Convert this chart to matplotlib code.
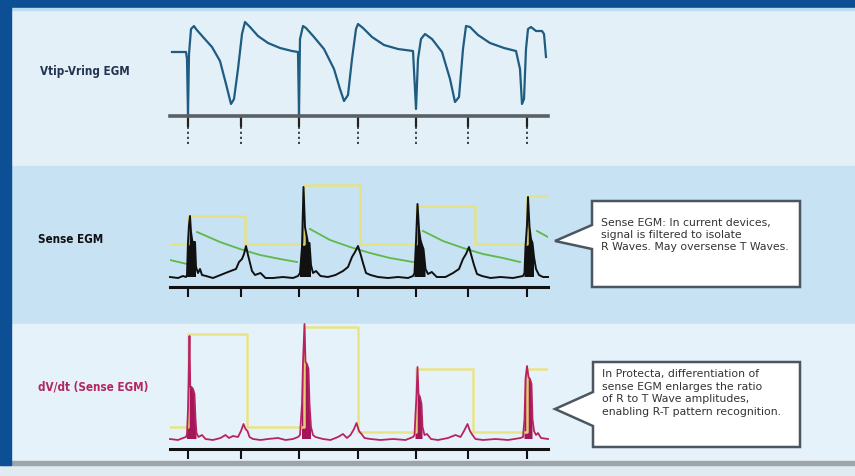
import numpy as np
import matplotlib
matplotlib.use("Agg")
import matplotlib.pyplot as plt
from matplotlib.patches import Rectangle, Polygon

# ---- data (time in ms, amplitude in arbitrary units above the trace baseline) ----
beat_ticks = [0, 212, 444, 680, 912, 1120, 1356]
t_range = (-72, 1440)

# Vtip-Vring EGM
egm_t = [-64, -8, -4, 0, 4, 12, 24, 32, 60, 96, 128, 152, 172, 184, 200, 216, 228, 248, 280, 320,
         368, 416, 440, 444, 448, 460, 472, 504, 544, 584, 608, 624, 640, 656, 672, 680, 700, 736,
         784, 840, 900, 912, 920, 932, 948, 976, 1016, 1048, 1068, 1084, 1100, 1112, 1128, 1160,
         1208, 1264, 1312, 1328, 1336, 1344, 1352, 1360, 1372, 1392, 1416, 1424, 1432]
egm_a = [64, 64, 57, 1, 62, 87, 90, 87, 79, 69, 55, 32, 12, 17, 47, 82, 94, 89, 80, 73,
         68, 65, 64, 1, 77, 90, 88, 79, 67, 47, 27, 15, 21, 57, 87, 92, 88, 79,
         71, 67, 65, 7, 57, 77, 82, 77, 64, 37, 14, 19, 67, 90, 89, 81,
         73, 68, 65, 47, 12, 17, 67, 87, 89, 85, 85, 82, 59]

# Sense EGM
sense_t = [-72, -40, -20, -8,
           -4, 0, 4, 8, 12, 16, 20, 24, 28, 32, 40, 48, 56, 72, 100, 130, 160,
           192, 204, 216, 224, 232, 240, 248, 256, 268, 290, 310, 340, 380, 420, 440,
           448, 456, 462, 468, 474, 480, 486, 492, 500, 512, 530, 560, 590, 620,
           640, 656, 668, 680, 690, 700, 712, 730, 760, 800, 840, 880, 900,
           906, 912, 918, 924, 930, 936, 942, 950, 960, 975, 995, 1030, 1060,
           1084, 1100, 1112, 1124, 1134, 1144, 1156, 1176, 1210, 1250, 1300, 1340,
           1346, 1350, 1356, 1360, 1366, 1372, 1378, 1384, 1392, 1404, 1420, 1440]
sense_a = [10, 9, 11, 10,
           12, 45, 62, 71, 55, 48, 42, 45, 45, 20, 14, 18, 12, 11, 9, 12, 15,
           18, 25, 28, 33, 41, 32, 24, 16, 12, 14, 9, 9, 10, 9, 11,
           14, 40, 100, 60, 52, 44, 44, 22, 14, 16, 11, 10, 12, 16,
           20, 30, 35, 41, 33, 24, 14, 12, 10, 9, 10, 9, 11,
           14, 45, 83, 58, 47, 42, 38, 18, 13, 15, 10, 10, 14,
           18, 28, 33, 40, 31, 22, 13, 11, 9, 10, 9, 11,
           14, 40, 62, 90, 60, 48, 44, 30, 18, 12, 10, 10]
sense_qrs = [(-4, 34), (448, 494), (906, 952), (1346, 1390)]

sense_thr_t = [-72, 0, 0, 228, 228, 464, 464, 688, 688, 912, 912, 1148, 1148, 1356, 1356, 1440]
sense_thr_a = [43, 43, 71, 71, 43, 43, 102, 102, 43, 43, 81, 81, 43, 43, 91, 91]

decay_t = [[-72, -4],
           [36, 128, 208, 288, 368, 436],
           [488, 568, 648, 728, 808, 900],
           [940, 1020, 1100, 1180, 1260, 1328],
           [1396, 1440]]
decay_a = [[27, 23],
           [55, 45, 38, 32, 28, 25],
           [58, 47, 40, 34, 29, 25],
           [56, 46, 39, 33, 29, 25],
           [56, 50]]

# dV/dt (Sense EGM)
dvdt_t = [-72, -40, -20, -8, -4, 0, 2, 6, 9, 14, 20, 26, 30, 34, 42, 56, 70, 100, 130, 150, 164, 180,
          200, 212, 222, 230, 238, 246, 260, 290, 320, 360, 390, 420, 440,
          448, 456, 460, 466, 470, 476, 482, 486, 492, 500, 510, 540, 570, 600, 620, 636,
          650, 664, 674, 684, 694, 706, 730, 770, 820, 870, 900,
          906, 910, 914, 918, 922, 928, 934, 938, 946, 956, 972, 1000, 1040, 1070,
          1090, 1104, 1118, 1128, 1138, 1150, 1180, 1230, 1280, 1330,
          1340, 1346, 1350, 1356, 1362, 1368, 1374, 1378, 1384, 1392, 1400, 1412, 1440]
dvdt_a = [10, 9, 11, 12, 15, 40, 62, 113, 62, 62, 60, 55, 30, 16, 12, 14, 10, 9, 11, 14, 11, 13,
          12, 18, 25, 20, 18, 12, 10, 9, 10, 11, 9, 10, 12,
          14, 45, 87, 125, 87, 85, 80, 45, 22, 14, 12, 10, 9, 12, 15, 11,
          14, 20, 26, 18, 15, 11, 10, 9, 10, 9, 12,
          14, 35, 53, 82, 55, 52, 45, 22, 14, 15, 10, 9, 11, 14,
          12, 18, 25, 18, 14, 10, 9, 10, 9, 11,
          12, 30, 70, 83, 72, 70, 65, 30, 18, 14, 16, 11, 10]
dvdt_qrs = [(-4, 34), (452, 494), (908, 942), (1344, 1382)]

dvdt_thr_t = [-72, 0, 0, 236, 236, 464, 464, 680, 680, 912, 912, 1140, 1140, 1356, 1356, 1440]
dvdt_thr_a = [22, 22, 115, 115, 22, 22, 122, 122, 17, 17, 80, 80, 17, 17, 80, 80]

row_labels = ["Vtip-Vring EGM", "Sense EGM", "dV/dt (Sense EGM)"]
callout_1 = "Sense EGM: In current devices,\nsignal is filtered to isolate\nR Waves. May oversense T Waves."
callout_2 = ("In Protecta, differentiation of\nsense EGM enlarges the ratio\n"
             "of R to T Wave amplitudes,\nenabling R-T pattern recognition.")

W, H = 855, 477
fig = plt.figure(figsize=(W / 100, H / 100), dpi=100)

# background drawn in pixel coordinates
bg = fig.add_axes([0, 0, 1, 1])
bg.set_xlim(0, W)
bg.set_ylim(H, 0)
bg.axis("off")
bg.add_patch(Rectangle((0, 0), W, H, color="#dfeaf1"))
bg.add_patch(Rectangle((0, 10), W, 158, color="#e4f0f8"))
bg.add_patch(Rectangle((0, 167), W, 158, color="#c7e2f2"))
bg.add_patch(Rectangle((0, 325), W, 137, color="#e6f2fa"))
bg.add_patch(Rectangle((0, 462), W, 4, color="#9ea5a8"))
bg.add_patch(Rectangle((0, 0), W, 9, color="#0c4f95"))
bg.add_patch(Rectangle((0, 9), W, 2, color="#b9dcee"))
bg.add_patch(Rectangle((0, 0), 11, 466, color="#0c4f95"))

lab_kw = dict(fontsize=8.4, fontweight="bold", va="center", ha="left", fontstretch="condensed")
bg.text(40, 72, row_labels[0], color="#22344f", **lab_kw)
bg.text(38, 240, row_labels[1], color="#111111", **lab_kw)
bg.text(38, 387, row_labels[2], color="#b3285f", **lab_kw)


def callout(left, top, right, bottom, y0, y1, tip, text, text_y, line_gap):
    pts = [(left, top), (right, top), (right, bottom), (left, bottom), (left, y1), tip, (left, y0)]
    bg.add_patch(Polygon(pts, closed=True, facecolor="white", edgecolor="#4b5661", lw=1.8,
                         joinstyle="miter"))
    bg.text(left + 9, text_y, text, fontsize=7.8, color="#333333", va="center",
            ha="left", linespacing=line_gap)


callout(592, 202, 800, 288, 226, 250, (555, 242), callout_1, 235, 1.3)
callout(593, 363, 800, 448, 393, 427, (555, 410), callout_2, 393, 1.35)


def trace_axes(top, base):
    ax = fig.add_axes([170 / W, 1 - base / H, 378 / W, (base - top) / H])
    ax.set_xlim(*t_range)
    ax.set_ylim(0, base - top)
    ax.patch.set_alpha(0)
    for s in ("top", "right", "left"):
        ax.spines[s].set_visible(False)
    ax.set_yticks([])
    ax.set_xticks(beat_ticks)
    ax.set_xticklabels([])
    return ax


ax1 = trace_axes(17, 117)
ax1.spines["bottom"].set_color("#5a6166")
ax1.spines["bottom"].set_linewidth(2.6)
ax1.tick_params(axis="x", length=8, width=1.6, color="#222222")
ax1.vlines(beat_ticks, -28, -9, colors="#333333", lw=1.3, linestyles=(0, (1.2, 1.6)), clip_on=False)
ax1.plot(egm_t, egm_a, color="#1f5c82", lw=1.6, clip_on=False, solid_joinstyle="round")

ax2 = trace_axes(183, 288)
ax2.spines["bottom"].set_color("#111111")
ax2.spines["bottom"].set_linewidth(2.2)
ax2.tick_params(axis="x", length=7, width=1.5, color="#111111")
ax2.plot(sense_thr_t, sense_thr_a, color="#e9e27a", lw=1.8, alpha=0.9)
for dt, da in zip(decay_t, decay_a):
    ax2.plot(dt, da, color="#5fb84a", lw=1.3)
st = np.array(sense_t, dtype=float)
sa = np.array(sense_a, dtype=float)
in_q = np.zeros_like(st, dtype=bool)
for a, b in sense_qrs:
    in_q |= (st >= a) & (st <= b)
ax2.fill_between(st, 10, sa, where=in_q, color="#111111", lw=0)
ax2.plot(st, sa, color="#111111", lw=1.4, clip_on=False)

ax3 = trace_axes(320, 450)
ax3.spines["bottom"].set_color("#111111")
ax3.spines["bottom"].set_linewidth(2.2)
ax3.tick_params(axis="x", length=7, width=1.5, color="#111111")
ax3.plot(dvdt_thr_t, dvdt_thr_a, color="#e9e27a", lw=1.8, alpha=0.9)
dt_ = np.array(dvdt_t, dtype=float)
da_ = np.array(dvdt_a, dtype=float)
in_q = np.zeros_like(dt_, dtype=bool)
for a, b in dvdt_qrs:
    in_q |= (dt_ >= a) & (dt_ <= b)
ax3.fill_between(dt_, 10, da_, where=in_q, color="#a3175a", lw=0)
ax3.plot(dt_, da_, color="#b8235f", lw=1.3, clip_on=False)

fig.savefig("out.png", dpi=100)
